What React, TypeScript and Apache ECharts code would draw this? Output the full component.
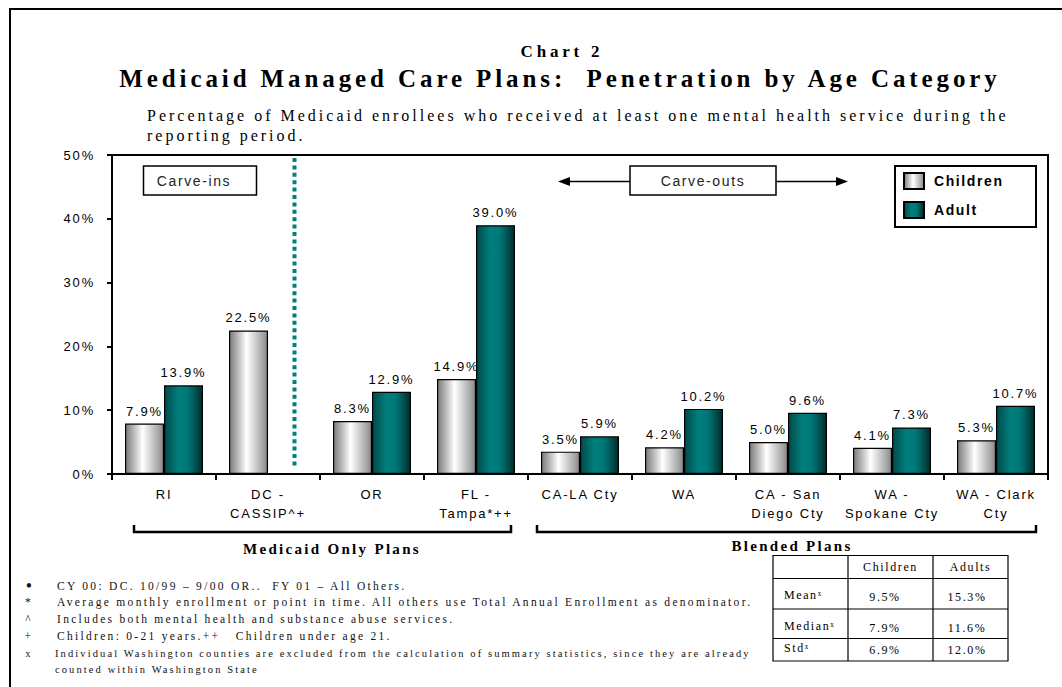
import React, { useEffect, useRef } from "react";
import * as echarts from "echarts";

const categories = [
  "RI",
  "DC -\nCASSIP^+",
  "OR",
  "FL -\nTampa*++",
  "CA-LA Cty",
  "WA",
  "CA - San\nDiego Cty",
  "WA -\nSpokane Cty",
  "WA - Clark\nCty",
];
const childrenValues: (number | null)[] = [7.9, 22.5, 8.3, 14.9, 3.5, 4.2, 5.0, 4.1, 5.3];
const adultValues: (number | null)[] = [13.9, null, 12.9, 39.0, 5.9, 10.2, 9.6, 7.3, 10.7];
const yTicks = [0, 10, 20, 30, 40, 50];

const statsHeader = ["Children", "Adults"];
const statsRows = ["Mean", "Median", "Std"];
const statsChildren = ["9.5%", "7.9%", "6.9%"];
const statsAdults = ["15.3%", "11.6%", "12.0%"];

const footSymbols = ["•", "*", "^", "+", "x", ""];
const footTexts = [
  "CY 00: DC. 10/99 – 9/00 OR..  FY 01 – All Others.",
  "Average monthly enrollment or point in time. All others use Total Annual Enrollment as denominator.",
  "Includes both mental health and substance abuse services.",
  "Children: 0-21 years.++   Children under age 21.",
  "Individual Washington counties are excluded from the calculation of summary statistics, since they are already",
  "counted within Washington State",
];

const SERIF = "'Liberation Serif', 'Times New Roman', serif";
const SANS = "'Liberation Sans', Arial, sans-serif";

function txt(x: number, y: number, text: string, o: any = {}) {
  const align = o.align || "left";
  return {
    type: "text",
    x,
    y,
    silent: true,
    style: {
      text,
      fill: o.fill || "#000",
      fontSize: o.fontSize || 12,
      fontFamily: o.fontFamily || SERIF,
      fontWeight: o.fontWeight || "normal",
      align,
      verticalAlign: "middle",
      textAlign: align,
      textVerticalAlign: "middle",
    },
  };
}

export default function App() {
  const ref = useRef<HTMLDivElement>(null);

  useEffect(() => {
    if (!ref.current) return;
    const chart = echarts.init(ref.current, undefined, { renderer: "svg" });

    const childGrad = new echarts.graphic.LinearGradient(0, 0, 1, 0, [
      { offset: 0, color: "#7a7a7a" },
      { offset: 0.45, color: "#ffffff" },
      { offset: 1, color: "#8a8a8a" },
    ]);
    const adultGrad = new echarts.graphic.LinearGradient(0, 0, 1, 0, [
      { offset: 0, color: "#004a4a" },
      { offset: 0.38, color: "#008080" },
      { offset: 0.62, color: "#007676" },
      { offset: 1, color: "#002c2c" },
    ]);

    const labelCfg = {
      show: true,
      position: "top",
      distance: 6,
      fontSize: 13,
      fontFamily: SANS,
      color: "#000",
      formatter: (p: any) => (p.value == null ? "" : Number(p.value).toFixed(1) + "%"),
    };

    const graphics: any[] = [];
    // outer frame
    graphics.push({
      type: "rect",
      silent: true,
      shape: { x: 10, y: 9, width: 1100, height: 800 },
      style: { fill: "none", stroke: "#000", lineWidth: 2 },
    });
    // titles
    graphics.push(txt(562, 51, "Chart 2", { align: "center", fontSize: 17, fontWeight: "bold" }));
    graphics.push(
      txt(560, 78, "Medicaid Managed Care Plans:  Penetration by Age Category", {
        align: "center",
        fontSize: 25,
        fontWeight: "bold",
      })
    );
    graphics.push(
      txt(
        147,
        115,
        "Percentage of Medicaid enrollees who received at least one mental health service during the",
        { fontSize: 16 }
      )
    );
    graphics.push(txt(147, 135, "reporting period.", { fontSize: 16 }));

    // dotted separator
    graphics.push({
      type: "line",
      silent: true,
      shape: { x1: 294.5, y1: 158, x2: 294.5, y2: 468 },
      style: { stroke: "#008080", lineWidth: 4, lineDash: [4, 3.4] },
    });

    // Carve-ins box
    graphics.push({
      type: "rect",
      silent: true,
      shape: { x: 143.5, y: 166, width: 113, height: 29 },
      style: { fill: "#fff", stroke: "#000", lineWidth: 1.5 },
    });
    graphics.push(txt(194, 181, "Carve-ins", { align: "center", fontSize: 14, fontFamily: SANS, fill: "#222" }));

    // Carve-outs box + arrows
    graphics.push({
      type: "line",
      silent: true,
      shape: { x1: 566, y1: 181.5, x2: 630, y2: 181.5 },
      style: { stroke: "#000", lineWidth: 1.5 },
    });
    graphics.push({
      type: "polygon",
      silent: true,
      shape: { points: [[558, 181.5], [570, 177], [570, 186]] },
      style: { fill: "#000" },
    });
    graphics.push({
      type: "line",
      silent: true,
      shape: { x1: 776, y1: 181.5, x2: 840, y2: 181.5 },
      style: { stroke: "#000", lineWidth: 1.5 },
    });
    graphics.push({
      type: "polygon",
      silent: true,
      shape: { points: [[848, 181.5], [836, 177], [836, 186]] },
      style: { fill: "#000" },
    });
    graphics.push({
      type: "rect",
      silent: true,
      shape: { x: 630, y: 166, width: 146, height: 29 },
      style: { fill: "#fff", stroke: "#000", lineWidth: 1.5 },
    });
    graphics.push(txt(703, 181, "Carve-outs", { align: "center", fontSize: 14, fontFamily: SANS, fill: "#222" }));

    // legend box
    graphics.push({
      type: "rect",
      silent: true,
      z: -1,
      shape: { x: 895, y: 166, width: 141, height: 61 },
      style: { fill: "#fff", stroke: "#000", lineWidth: 2 },
    });

    // brackets
    graphics.push({
      type: "polyline",
      silent: true,
      shape: { points: [[134, 525], [134, 532], [511, 532], [511, 525]] },
      style: { stroke: "#000", lineWidth: 2.5, fill: "none" },
    });
    graphics.push({
      type: "polyline",
      silent: true,
      shape: { points: [[537, 525], [537, 532], [1036, 532], [1036, 525]] },
      style: { stroke: "#000", lineWidth: 2.5, fill: "none" },
    });
    graphics.push(txt(332, 549, "Medicaid Only Plans", { align: "center", fontSize: 15, fontWeight: "bold" }));
    graphics.push(txt(792, 546, "Blended Plans", { align: "center", fontSize: 15, fontWeight: "bold" }));

    // stats table
    const tx0 = 773, tx1 = 848, tx2 = 933, tx3 = 1008;
    const ty = [555.5, 578.5, 609, 638.5, 661];
    graphics.push({
      type: "rect",
      silent: true,
      shape: { x: tx0, y: ty[0], width: tx3 - tx0, height: ty[4] - ty[0] },
      style: { fill: "#fff", stroke: "#000", lineWidth: 1.2 },
    });
    [tx1, tx2].forEach((x) =>
      graphics.push({
        type: "line",
        silent: true,
        shape: { x1: x, y1: ty[0], x2: x, y2: ty[4] },
        style: { stroke: "#000", lineWidth: 1.2 },
      })
    );
    [ty[1], ty[2], ty[3]].forEach((y) =>
      graphics.push({
        type: "line",
        silent: true,
        shape: { x1: tx0, y1: y, x2: tx3, y2: y },
        style: { stroke: "#000", lineWidth: 1.2 },
      })
    );
    graphics.push(txt((tx1 + tx2) / 2, 567, statsHeader[0], { align: "center", fontSize: 12 }));
    graphics.push(txt((tx2 + tx3) / 2, 567, statsHeader[1], { align: "center", fontSize: 12 }));
    const rowY = [597, 627.5, 650];
    statsRows.forEach((r, i) => {
      graphics.push(txt(784, rowY[i] - 2, r + "ˣ", { fontSize: 12 }));
      graphics.push(txt(885, rowY[i], statsChildren[i], { align: "center", fontSize: 12 }));
      graphics.push(txt(967, rowY[i], statsAdults[i], { align: "center", fontSize: 12 }));
    });

    // footnotes
    const footY = [586, 602, 619, 636, 653, 669.5];
    footTexts.forEach((t, i) => {
      const small = i >= 4;
      const fs = small ? 10.5 : 11.5;
      if (footSymbols[i]) {
        graphics.push(
          txt(29, footY[i], footSymbols[i], {
            align: "center",
            fontSize: i === 0 ? 18 : fs,
            fill: "#111",
          })
        );
      }
      graphics.push(txt(small ? 55 : 57, footY[i], t, { fontSize: fs, fill: "#111" }));
    });

    chart.setOption({
      animation: false,
      backgroundColor: "#fff",
      textStyle: { fontFamily: SANS },
      grid: {
        left: 112,
        top: 155,
        width: 936,
        height: 319,
        show: true,
        borderColor: "#000",
        borderWidth: 2,
        backgroundColor: "transparent",
      },
      legend: {
        show: true,
        orient: "vertical",
        left: 903,
        top: 172,
        itemWidth: 20,
        itemHeight: 16,
        itemGap: 11,
        padding: 0,
        icon: "rect",
        textStyle: { fontSize: 14, fontWeight: "bold", fontFamily: SANS, color: "#000", padding: [0, 0, 0, 5] },
        data: ["Children", "Adult"],
      },
      xAxis: {
        type: "category",
        data: categories,
        axisLine: { show: true, lineStyle: { color: "#000", width: 2 } },
        axisTick: { show: true, length: 6, lineStyle: { color: "#000", width: 2 } },
        axisLabel: {
          margin: 11,
          fontSize: 13,
          lineHeight: 19,
          color: "#000",
          fontFamily: SANS,
          interval: 0,
        },
      },
      yAxis: {
        type: "value",
        min: 0,
        max: 50,
        interval: 10,
        splitLine: { show: false },
        axisLine: { show: true, lineStyle: { color: "#000", width: 2 } },
        axisTick: { show: true, length: 5, lineStyle: { color: "#000", width: 2 } },
        axisLabel: {
          margin: 17,
          fontSize: 13,
          color: "#000",
          fontFamily: SANS,
          formatter: (v: number) => (yTicks.includes(v) ? v + "%" : ""),
        },
      },
      series: [
        {
          name: "Children",
          type: "bar",
          data: childrenValues,
          barWidth: 39,
          barGap: "0%",
          itemStyle: { color: childGrad, borderColor: "#000", borderWidth: 1.2 },
          label: labelCfg,
        },
        {
          name: "Adult",
          type: "bar",
          data: adultValues,
          barWidth: 39,
          barGap: "0%",
          itemStyle: { color: adultGrad, borderColor: "#000", borderWidth: 1.2 },
          label: labelCfg,
        },
      ],
      graphic: { elements: graphics },
    });

    return () => chart.dispose();
  }, []);

  const css = `
    #mcchart text[style*="25px"] { letter-spacing: 3.9px; }
    #mcchart text[style*="17px"] { letter-spacing: 3.8px; }
    #mcchart text[style*="16px"] { letter-spacing: 3px; }
    #mcchart text[style*="15px"] { letter-spacing: 2.3px; }
    #mcchart text[style*="14px"] { letter-spacing: 1.6px; }
    #mcchart text[style*="13px"] { letter-spacing: 1.8px; }
    #mcchart text[style*="12px"] { letter-spacing: 1.6px; }
    #mcchart text[style*="11.5px"] { letter-spacing: 2.3px; }
    #mcchart text[style*="10.5px"] { letter-spacing: 2.1px; }
  `;

  return (
    <>
      <style>{css}</style>
      <div
        id="mcchart"
        ref={ref}
        style={{ position: "absolute", left: 0, top: 0, width: 1062, height: 687 }}
      />
    </>
  );
}
